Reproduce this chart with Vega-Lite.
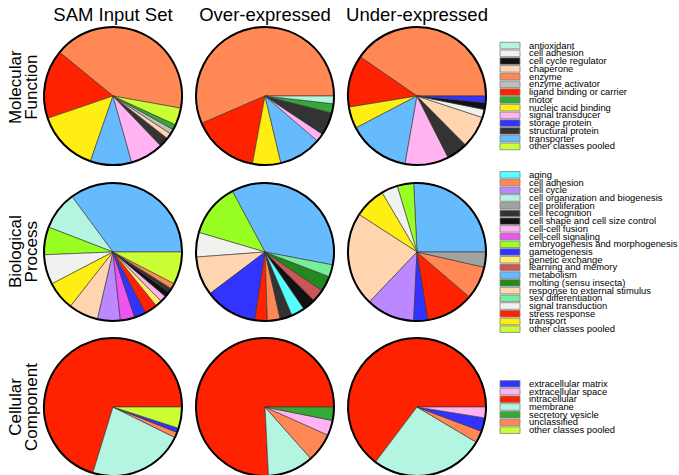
{
"$schema": "https://vega.github.io/schema/vega-lite/v6.json",
"padding": {"left": 7, "top": 5, "right": 0, "bottom": 0},
"config": {"view": {"stroke": null}, "font": "Liberation Sans", "legend": {"disable": true},
  "title": {"font": "Liberation Sans", "fontWeight": "normal", "color": "black"}},
"datasets": {
 "mf": [
  {"set": "SAM", "cls": "enzyme", "v": 150.9, "rank": 1},
  {"set": "SAM", "cls": "ligand binding or carrier", "v": 58.2, "rank": 2},
  {"set": "SAM", "cls": "nucleic acid binding", "v": 52, "rank": 3},
  {"set": "SAM", "cls": "transporter", "v": 34.8, "rank": 4},
  {"set": "SAM", "cls": "signal transducer", "v": 28.1, "rank": 5},
  {"set": "SAM", "cls": "structural protein", "v": 8.3, "rank": 6},
  {"set": "SAM", "cls": "chaperone", "v": 4.6, "rank": 7},
  {"set": "SAM", "cls": "enzyme activator", "v": 4.2, "rank": 8},
  {"set": "SAM", "cls": "motor", "v": 4.4, "rank": 9},
  {"set": "SAM", "cls": "other classes pooled", "v": 14.5, "rank": 10},
  {"set": "Over", "cls": "enzyme", "v": 203.4, "rank": 1},
  {"set": "Over", "cls": "ligand binding or carrier", "v": 56.1, "rank": 2},
  {"set": "Over", "cls": "nucleic acid binding", "v": 23.9, "rank": 3},
  {"set": "Over", "cls": "transporter", "v": 36, "rank": 4},
  {"set": "Over", "cls": "signal transducer", "v": 7, "rank": 5},
  {"set": "Over", "cls": "structural protein", "v": 19.4, "rank": 6},
  {"set": "Over", "cls": "motor", "v": 7.7, "rank": 7},
  {"set": "Over", "cls": "antioxidant", "v": 6.5, "rank": 8},
  {"set": "Under", "cls": "enzyme", "v": 145.4, "rank": 1},
  {"set": "Under", "cls": "ligand binding or carrier", "v": 43.9, "rank": 2},
  {"set": "Under", "cls": "nucleic acid binding", "v": 18.3, "rank": 3},
  {"set": "Under", "cls": "transporter", "v": 52.4, "rank": 4},
  {"set": "Under", "cls": "signal transducer", "v": 36.8, "rank": 5},
  {"set": "Under", "cls": "structural protein", "v": 18, "rank": 6},
  {"set": "Under", "cls": "chaperone", "v": 27, "rank": 7},
  {"set": "Under", "cls": "cell adhesion", "v": 6.9, "rank": 8},
  {"set": "Under", "cls": "cell cycle regulator", "v": 5.7, "rank": 9},
  {"set": "Under", "cls": "storage protein", "v": 5.6, "rank": 10}
 ],
 "bp": [
  {"set": "SAM", "cls": "metabolism", "v": 126.5, "rank": 1},
  {"set": "SAM", "cls": "cell organization and biogenesis", "v": 32.4, "rank": 2},
  {"set": "SAM", "cls": "embryogenesis and morphogenesis", "v": 23.4, "rank": 3},
  {"set": "SAM", "cls": "signal transduction", "v": 25.2, "rank": 4},
  {"set": "SAM", "cls": "transport", "v": 24.4, "rank": 5},
  {"set": "SAM", "cls": "response to external stimulus", "v": 25.1, "rank": 6},
  {"set": "SAM", "cls": "cell cycle", "v": 19.2, "rank": 7},
  {"set": "SAM", "cls": "cell-cell signaling", "v": 12.2, "rank": 8},
  {"set": "SAM", "cls": "gametogenesis", "v": 9.8, "rank": 9},
  {"set": "SAM", "cls": "stress response", "v": 10.7, "rank": 10},
  {"set": "SAM", "cls": "genetic exchange", "v": 5.5, "rank": 11},
  {"set": "SAM", "cls": "cell-cell fusion", "v": 5.3, "rank": 12},
  {"set": "SAM", "cls": "cell shape and cell size control", "v": 4.7, "rank": 13},
  {"set": "SAM", "cls": "cell recognition", "v": 3.5, "rank": 14},
  {"set": "SAM", "cls": "cell adhesion", "v": 4.8, "rank": 15},
  {"set": "SAM", "cls": "other classes pooled", "v": 27.3, "rank": 16},
  {"set": "Over", "cls": "metabolism", "v": 129, "rank": 1},
  {"set": "Over", "cls": "embryogenesis and morphogenesis", "v": 45.3, "rank": 2},
  {"set": "Over", "cls": "signal transduction", "v": 20.7, "rank": 3},
  {"set": "Over", "cls": "response to external stimulus", "v": 32.9, "rank": 4},
  {"set": "Over", "cls": "gametogenesis", "v": 44.4, "rank": 5},
  {"set": "Over", "cls": "stress response", "v": 10.5, "rank": 6},
  {"set": "Over", "cls": "cell adhesion", "v": 10.8, "rank": 7},
  {"set": "Over", "cls": "cell recognition", "v": 10.3, "rank": 8},
  {"set": "Over", "cls": "aging", "v": 11.3, "rank": 9},
  {"set": "Over", "cls": "cell shape and cell size control", "v": 11, "rank": 10},
  {"set": "Over", "cls": "learning and memory", "v": 10.5, "rank": 11},
  {"set": "Over", "cls": "molting (sensu insecta)", "v": 13.1, "rank": 12},
  {"set": "Over", "cls": "sex differentiation", "v": 10.2, "rank": 13},
  {"set": "Under", "cls": "metabolism", "v": 92.8, "rank": 1},
  {"set": "Under", "cls": "embryogenesis and morphogenesis", "v": 13.9, "rank": 2},
  {"set": "Under", "cls": "signal transduction", "v": 13.8, "rank": 3},
  {"set": "Under", "cls": "transport", "v": 26.6, "rank": 4},
  {"set": "Under", "cls": "response to external stimulus", "v": 79.3, "rank": 5},
  {"set": "Under", "cls": "cell cycle", "v": 40.8, "rank": 6},
  {"set": "Under", "cls": "gametogenesis", "v": 11.9, "rank": 7},
  {"set": "Under", "cls": "stress response", "v": 40.3, "rank": 8},
  {"set": "Under", "cls": "cell adhesion", "v": 27.8, "rank": 9},
  {"set": "Under", "cls": "cell proliferation", "v": 12.8, "rank": 10}
 ],
 "cc": [
  {"set": "SAM", "cls": "intracellular", "v": 253, "rank": 1},
  {"set": "SAM", "cls": "membrane", "v": 80.7, "rank": 2},
  {"set": "SAM", "cls": "unclassified", "v": 4.7, "rank": 3},
  {"set": "SAM", "cls": "extracellular matrix", "v": 3.7, "rank": 4},
  {"set": "SAM", "cls": "other classes pooled", "v": 17.9, "rank": 5},
  {"set": "Over", "cls": "intracellular", "v": 272.9, "rank": 1},
  {"set": "Over", "cls": "membrane", "v": 38.7, "rank": 2},
  {"set": "Over", "cls": "unclassified", "v": 24.3, "rank": 3},
  {"set": "Over", "cls": "extracellular space", "v": 12.8, "rank": 4},
  {"set": "Over", "cls": "secretory vesicle", "v": 11.3, "rank": 5},
  {"set": "Under", "cls": "intracellular", "v": 233, "rank": 1},
  {"set": "Under", "cls": "membrane", "v": 96.3, "rank": 2},
  {"set": "Under", "cls": "unclassified", "v": 10.1, "rank": 3},
  {"set": "Under", "cls": "extracellular matrix", "v": 11.5, "rank": 4},
  {"set": "Under", "cls": "extracellular space", "v": 9.1, "rank": 5}
 ]
},
"spacing": 0,
"resolve": {"scale": {"color": "independent", "theta": "independent"}},
"vconcat": [
 {
  "title": {"text": ["Molecular", "Function"], "orient": "left", "anchor": "middle", "fontSize": 17, "offset": -1, "lineHeight": 16},
  "spacing": 14, "bounds": "flush", "center": true,
  "resolve": {"scale": {"theta": "independent", "color": "shared"}},
  "hconcat": [
   {"width": 138, "height": 138, "data": {"name": "mf"}, "transform": [{"filter": "datum.set === 'SAM'"}],
    "title": {"text": "SAM Input Set", "fontSize": 18.5, "offset": -1},
    "layer": [
     {"mark": {"type": "arc", "stroke": "#333", "strokeWidth": 0.6},
      "encoding": {
       "theta": {"field": "v", "type": "quantitative", "stack": true, "scale": {"range": [1.7488, -4.5344]}},
       "order": {"field": "rank", "type": "quantitative"},
       "color": {"field": "cls", "type": "nominal", "scale": {"domain": ["antioxidant", "cell adhesion", "cell cycle regulator", "chaperone", "enzyme", "enzyme activator", "ligand binding or carrier", "motor", "nucleic acid binding", "signal transducer", "storage protein", "structural protein", "transporter", "other classes pooled"], "range": ["#B3F5E0", "#F0F2F0", "#111111", "#FFD5B0", "#FF8855", "#BBC0BB", "#FF2200", "#33AA33", "#FFEE11", "#FFB3F0", "#3333FF", "#333333", "#66BBFF", "#CCFF33"]}}}},
     {"mark": {"type": "arc", "filled": false, "stroke": "black", "strokeWidth": 2, "radius": 69, "radius2": 69},
      "encoding": {"theta": {"field": "v", "type": "quantitative", "stack": true}}}
    ]},
   {"width": 138, "height": 138, "data": {"name": "mf"}, "transform": [{"filter": "datum.set === 'Over'"}],
    "title": {"text": "Over-expressed", "fontSize": 18.5, "offset": -1},
    "layer": [
     {"mark": {"type": "arc", "stroke": "#333", "strokeWidth": 0.6},
      "encoding": {
       "theta": {"field": "v", "type": "quantitative", "stack": true, "scale": {"range": [1.5708, -4.7124]}},
       "order": {"field": "rank", "type": "quantitative"},
       "color": {"field": "cls", "type": "nominal"}}},
     {"mark": {"type": "arc", "filled": false, "stroke": "black", "strokeWidth": 2, "radius": 69, "radius2": 69},
      "encoding": {"theta": {"field": "v", "type": "quantitative", "stack": true}}}
    ]},
   {"width": 138, "height": 138, "data": {"name": "mf"}, "transform": [{"filter": "datum.set === 'Under'"}],
    "title": {"text": "Under-expressed", "fontSize": 18.5, "offset": -1},
    "layer": [
     {"mark": {"type": "arc", "stroke": "#333", "strokeWidth": 0.6},
      "encoding": {
       "theta": {"field": "v", "type": "quantitative", "stack": true, "scale": {"range": [1.5708, -4.7124]}},
       "order": {"field": "rank", "type": "quantitative"},
       "color": {"field": "cls", "type": "nominal"}}},
     {"mark": {"type": "arc", "filled": false, "stroke": "black", "strokeWidth": 2, "radius": 69, "radius2": 69},
      "encoding": {"theta": {"field": "v", "type": "quantitative", "stack": true}}}
    ]},
   {"width": 20, "height": 108.5, "data": {"name": "mf"},
    "transform": [{"aggregate": [{"op": "count", "as": "n"}], "groupby": ["cls"]}],
    "encoding": {"y": {"field": "cls", "type": "nominal", "axis": null, "scale": {"domain": ["antioxidant", "cell adhesion", "cell cycle regulator", "chaperone", "enzyme", "enzyme activator", "ligand binding or carrier", "motor", "nucleic acid binding", "signal transducer", "storage protein", "structural protein", "transporter", "other classes pooled"], "paddingInner": 0.15, "paddingOuter": 0.07}}},
    "layer": [
     {"mark": {"type": "bar", "stroke": "#808080", "strokeWidth": 0.8}, "encoding": {"color": {"field": "cls", "type": "nominal"}}},
     {"mark": {"type": "text", "align": "left", "baseline": "middle", "dx": 19, "fontSize": 9.4, "font": "Liberation Sans", "color": "black"}, "encoding": {"text": {"field": "cls"}}}
    ]}
  ]
 },
 {
  "title": {"text": ["Biological", "Process"], "orient": "left", "anchor": "middle", "fontSize": 17, "offset": -1, "lineHeight": 16},
  "spacing": 14, "bounds": "flush", "center": true,
  "resolve": {"scale": {"theta": "independent", "color": "shared"}},
  "hconcat": [
   {"width": 138, "height": 138, "data": {"name": "bp"}, "transform": [{"filter": "datum.set === 'SAM'"}],
    "layer": [
     {"mark": {"type": "arc", "stroke": "#333", "strokeWidth": 0.6},
      "encoding": {
       "theta": {"field": "v", "type": "quantitative", "stack": true, "scale": {"range": [1.5708, -4.7124]}},
       "order": {"field": "rank", "type": "quantitative"},
       "color": {"field": "cls", "type": "nominal", "scale": {"domain": ["aging", "cell adhesion", "cell cycle", "cell organization and biogenesis", "cell proliferation", "cell recognition", "cell shape and cell size control", "cell-cell fusion", "cell-cell signaling", "embryogenesis and morphogenesis", "gametogenesis", "genetic exchange", "learning and memory", "metabolism", "molting (sensu insecta)", "response to external stimulus", "sex differentiation", "signal transduction", "stress response", "transport", "other classes pooled"], "range": ["#55FFFF", "#FF8855", "#BB88FF", "#B3F5E0", "#A0A3A0", "#333333", "#111111", "#FFB3F0", "#EE55EE", "#99FF22", "#3333FF", "#FFEE66", "#CC5555", "#66BBFF", "#228822", "#FFD5B0", "#77EE99", "#F0F2F0", "#FF2200", "#FFEE11", "#CCFF33"]}}}},
     {"mark": {"type": "arc", "filled": false, "stroke": "black", "strokeWidth": 2, "radius": 69, "radius2": 69},
      "encoding": {"theta": {"field": "v", "type": "quantitative", "stack": true}}}
    ]},
   {"width": 138, "height": 138, "data": {"name": "bp"}, "transform": [{"filter": "datum.set === 'Over'"}],
    "layer": [
     {"mark": {"type": "arc", "stroke": "#333", "strokeWidth": 0.6},
      "encoding": {
       "theta": {"field": "v", "type": "quantitative", "stack": true, "scale": {"range": [1.7593, -4.5239]}},
       "order": {"field": "rank", "type": "quantitative"},
       "color": {"field": "cls", "type": "nominal"}}},
     {"mark": {"type": "arc", "filled": false, "stroke": "black", "strokeWidth": 2, "radius": 69, "radius2": 69},
      "encoding": {"theta": {"field": "v", "type": "quantitative", "stack": true}}}
    ]},
   {"width": 138, "height": 138, "data": {"name": "bp"}, "transform": [{"filter": "datum.set === 'Under'"}],
    "layer": [
     {"mark": {"type": "arc", "stroke": "#333", "strokeWidth": 0.6},
      "encoding": {
       "theta": {"field": "v", "type": "quantitative", "stack": true, "scale": {"range": [1.5708, -4.7124]}},
       "order": {"field": "rank", "type": "quantitative"},
       "color": {"field": "cls", "type": "nominal"}}},
     {"mark": {"type": "arc", "filled": false, "stroke": "black", "strokeWidth": 2, "radius": 69, "radius2": 69},
      "encoding": {"theta": {"field": "v", "type": "quantitative", "stack": true}}}
    ]},
   {"width": 20, "height": 162, "data": {"name": "bp"},
    "transform": [{"aggregate": [{"op": "count", "as": "n"}], "groupby": ["cls"]}],
    "encoding": {"y": {"field": "cls", "type": "nominal", "axis": null, "scale": {"domain": ["aging", "cell adhesion", "cell cycle", "cell organization and biogenesis", "cell proliferation", "cell recognition", "cell shape and cell size control", "cell-cell fusion", "cell-cell signaling", "embryogenesis and morphogenesis", "gametogenesis", "genetic exchange", "learning and memory", "metabolism", "molting (sensu insecta)", "response to external stimulus", "sex differentiation", "signal transduction", "stress response", "transport", "other classes pooled"], "paddingInner": 0.15, "paddingOuter": 0.07}}},
    "layer": [
     {"mark": {"type": "bar", "stroke": "#808080", "strokeWidth": 0.8}, "encoding": {"color": {"field": "cls", "type": "nominal"}}},
     {"mark": {"type": "text", "align": "left", "baseline": "middle", "dx": 19, "fontSize": 9.4, "font": "Liberation Sans", "color": "black"}, "encoding": {"text": {"field": "cls"}}}
    ]}
  ]
 },
 {
  "title": {"text": ["Cellular", "Component"], "orient": "left", "anchor": "middle", "fontSize": 17, "offset": -1, "lineHeight": 16},
  "spacing": 14, "bounds": "flush", "center": true,
  "resolve": {"scale": {"theta": "independent", "color": "shared"}},
  "hconcat": [
   {"width": 138, "height": 138, "data": {"name": "cc"}, "transform": [{"filter": "datum.set === 'SAM'"}],
    "layer": [
     {"mark": {"type": "arc", "stroke": "#333", "strokeWidth": 0.6},
      "encoding": {
       "theta": {"field": "v", "type": "quantitative", "stack": true, "scale": {"range": [1.5708, -4.7124]}},
       "order": {"field": "rank", "type": "quantitative"},
       "color": {"field": "cls", "type": "nominal", "scale": {"domain": ["extracellular matrix", "extracellular space", "intracellular", "membrane", "secretory vesicle", "unclassified", "other classes pooled"], "range": ["#3333FF", "#FFB3F0", "#FF2200", "#B3F5E0", "#33AA33", "#FF8855", "#CCFF33"]}}}},
     {"mark": {"type": "arc", "filled": false, "stroke": "black", "strokeWidth": 2, "radius": 69, "radius2": 69},
      "encoding": {"theta": {"field": "v", "type": "quantitative", "stack": true}}}
    ]},
   {"width": 138, "height": 138, "data": {"name": "cc"}, "transform": [{"filter": "datum.set === 'Over'"}],
    "layer": [
     {"mark": {"type": "arc", "stroke": "#333", "strokeWidth": 0.6},
      "encoding": {
       "theta": {"field": "v", "type": "quantitative", "stack": true, "scale": {"range": [1.5708, -4.7124]}},
       "order": {"field": "rank", "type": "quantitative"},
       "color": {"field": "cls", "type": "nominal"}}},
     {"mark": {"type": "arc", "filled": false, "stroke": "black", "strokeWidth": 2, "radius": 69, "radius2": 69},
      "encoding": {"theta": {"field": "v", "type": "quantitative", "stack": true}}}
    ]},
   {"width": 138, "height": 138, "data": {"name": "cc"}, "transform": [{"filter": "datum.set === 'Under'"}],
    "layer": [
     {"mark": {"type": "arc", "stroke": "#333", "strokeWidth": 0.6},
      "encoding": {
       "theta": {"field": "v", "type": "quantitative", "stack": true, "scale": {"range": [1.5708, -4.7124]}},
       "order": {"field": "rank", "type": "quantitative"},
       "color": {"field": "cls", "type": "nominal"}}},
     {"mark": {"type": "arc", "filled": false, "stroke": "black", "strokeWidth": 2, "radius": 69, "radius2": 69},
      "encoding": {"theta": {"field": "v", "type": "quantitative", "stack": true}}}
    ]},
   {"width": 20, "height": 54, "data": {"name": "cc"},
    "transform": [{"aggregate": [{"op": "count", "as": "n"}], "groupby": ["cls"]}],
    "encoding": {"y": {"field": "cls", "type": "nominal", "axis": null, "scale": {"domain": ["extracellular matrix", "extracellular space", "intracellular", "membrane", "secretory vesicle", "unclassified", "other classes pooled"], "paddingInner": 0.15, "paddingOuter": 0.07}}},
    "layer": [
     {"mark": {"type": "bar", "stroke": "#808080", "strokeWidth": 0.8}, "encoding": {"color": {"field": "cls", "type": "nominal"}}},
     {"mark": {"type": "text", "align": "left", "baseline": "middle", "dx": 19, "fontSize": 9.4, "font": "Liberation Sans", "color": "black"}, "encoding": {"text": {"field": "cls"}}}
    ]}
  ]
 }
]
}
